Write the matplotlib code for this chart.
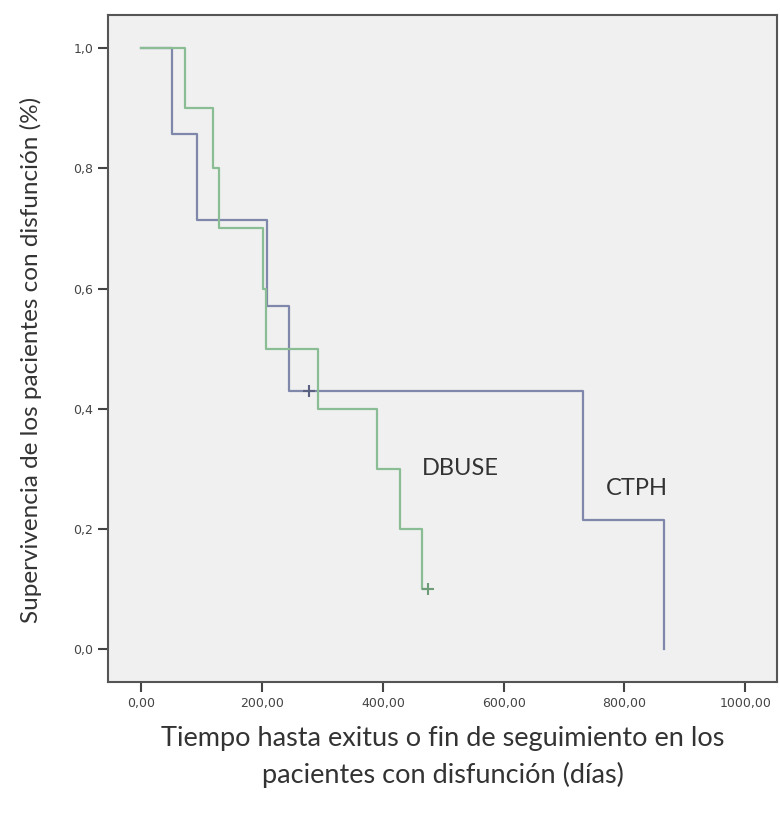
import matplotlib
matplotlib.use("Agg")
import matplotlib.pyplot as plt

# Kaplan-Meier curves (time in days, survival fraction)
ctph_t = [0, 51, 93, 208, 245, 732, 866]
ctph_s = [1.0, 0.857, 0.714, 0.571, 0.429, 0.214, 0.0]
ctph_cens_t = [278]
ctph_cens_s = [0.429]

dbuse_t = [0, 73, 119, 129, 202, 207, 293, 390, 429, 465, 475]
dbuse_s = [1.0, 0.9, 0.8, 0.7, 0.6, 0.5, 0.4, 0.3, 0.2, 0.1, 0.1]
dbuse_cens_t = [475]
dbuse_cens_s = [0.1]

x_ticks = [0, 200, 400, 600, 800, 1000]
x_ticklabels = ["0,00", "200,00", "400,00", "600,00", "800,00", "1000,00"]
y_ticks = [0.0, 0.2, 0.4, 0.6, 0.8, 1.0]
y_ticklabels = ["0,0", "0,2", "0,4", "0,6", "0,8", "1,0"]

c_ctph = "#7f87aa"
c_dbuse = "#8abd94"
label_font = ["Lato", "DejaVu Sans"]

fig = plt.figure(figsize=(7.8, 8.14), dpi=100)
ax = fig.add_axes([0.1385, 0.162, 0.858, 0.8194])
ax.set_facecolor("#f0f0f0")

ax.step(ctph_t, ctph_s, where="post", color=c_ctph, lw=1.6)
ax.plot(ctph_cens_t, ctph_cens_s, "+", color="#5a6080", ms=9, mew=1.5)
ax.step(dbuse_t, dbuse_s, where="post", color=c_dbuse, lw=1.6)
ax.plot(dbuse_cens_t, dbuse_cens_s, "+", color="#6f9c78", ms=9, mew=1.5)

ax.text(528, 0.30, "DBUSE", fontsize=17, family=label_font, color="#333333",
        ha="center", va="center")
ax.text(820, 0.268, "CTPH", fontsize=17, family=label_font, color="#333333",
        ha="center", va="center")

ax.set_xlim(-55, 1053)
ax.set_ylim(-0.055, 1.055)
ax.set_xticks(x_ticks)
ax.set_xticklabels(x_ticklabels)
ax.set_yticks(y_ticks)
ax.set_yticklabels(y_ticklabels)
ax.tick_params(direction="out", length=7, width=1.5, color="#444444",
               labelsize=9, labelcolor="#444444")
for sp in ax.spines.values():
    sp.set_color("#555555")
    sp.set_linewidth(1.5)

ax.set_xlabel("Tiempo hasta exitus o fin de seguimiento en los\npacientes con disfunción (días)",
              fontsize=19.5, family=label_font, color="#333333", labelpad=12,
              linespacing=1.5)
ax.set_ylabel("Supervivencia de los pacientes con disfunción (%)",
              fontsize=17.5, family=label_font, color="#333333")
ax.yaxis.set_label_coords(-0.098, 0.483)

fig.savefig("out.png", dpi=100, facecolor="white")
